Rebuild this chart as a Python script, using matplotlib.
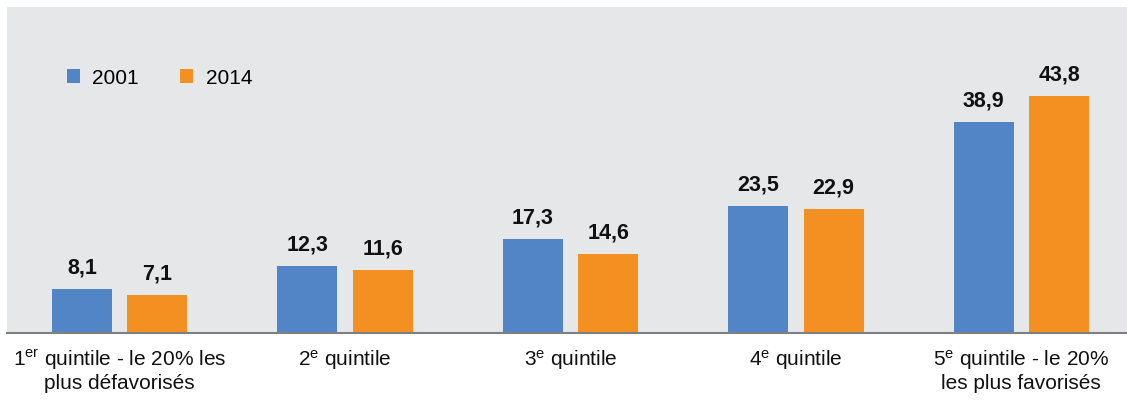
import matplotlib
matplotlib.use("Agg")
import matplotlib.pyplot as plt
from matplotlib.patches import Patch
import numpy as np

plt.rcParams['font.family'] = ['Liberation Sans', 'DejaVu Sans']
plt.rcParams['mathtext.fontset'] = 'custom'
plt.rcParams['mathtext.rm'] = 'Liberation Sans'
plt.rcParams['mathtext.it'] = 'Liberation Sans'
plt.rcParams['mathtext.bf'] = 'Liberation Sans:bold'

categories = [
    "1$^{\\mathrm{er}}$ quintile - le 20% les\nplus défavorisés",
    "2$^{\\mathrm{e}}$ quintile",
    "3$^{\\mathrm{e}}$ quintile",
    "4$^{\\mathrm{e}}$ quintile",
    "5$^{\\mathrm{e}}$ quintile - le 20%\nles plus favorisés",
]
series_names = ["2001", "2014"]
values_2001 = [8.1, 12.3, 17.3, 23.5, 38.9]
values_2014 = [7.1, 11.6, 14.6, 22.9, 43.8]

c_blue = "#5185C6"
c_orange = "#F39021"
bg = "#E6E7E9"

fig = plt.figure(figsize=(11.27, 4.03), dpi=100)
ax = fig.add_axes([7/1127, 70/403, 1120/1127, 326/403])
ax.set_facecolor(bg)

x = np.arange(len(categories))
w = 0.266
off = 0.1675
b1 = ax.bar(x - off, values_2001, w, color=c_blue, label=series_names[0])
b2 = ax.bar(x + off, values_2014, w, color=c_orange, label=series_names[1])

for bars, vals in ((b1, values_2001), (b2, values_2014)):
    for r, v in zip(bars, vals):
        ax.annotate(f"{v:.1f}".replace(".", ","),
                    (r.get_x() + r.get_width()/2, r.get_height()),
                    xytext=(0, 7.5), textcoords="offset points",
                    ha="center", va="bottom", fontsize=15.5, fontweight="bold",
                    color="#111111")

ax.set_xlim(-0.5, 4.469)
ax.set_ylim(0, 60.2)
ax.set_xticks(x)
ax.set_xticklabels(categories, fontsize=15, color="#111111", linespacing=1.1)
ax.tick_params(axis="x", length=0, pad=11)
ax.set_yticks([])
for s in ["top", "right", "left"]:
    ax.spines[s].set_visible(False)
ax.spines["bottom"].set_color("#7F7F7F")
ax.spines["bottom"].set_linewidth(1.5)

handles = [Patch(facecolor=c_blue, edgecolor="none"),
           Patch(facecolor=c_orange, edgecolor="none")]
ax.legend(handles, series_names, loc="center left", bbox_to_anchor=(0.0536, 0.782),
          ncol=2, frameon=False, fontsize=15, handlelength=0.625, handleheight=0.625,
          handletextpad=0.58, columnspacing=2.0, borderpad=0, borderaxespad=0)

fig.savefig("out.png", dpi=100)
